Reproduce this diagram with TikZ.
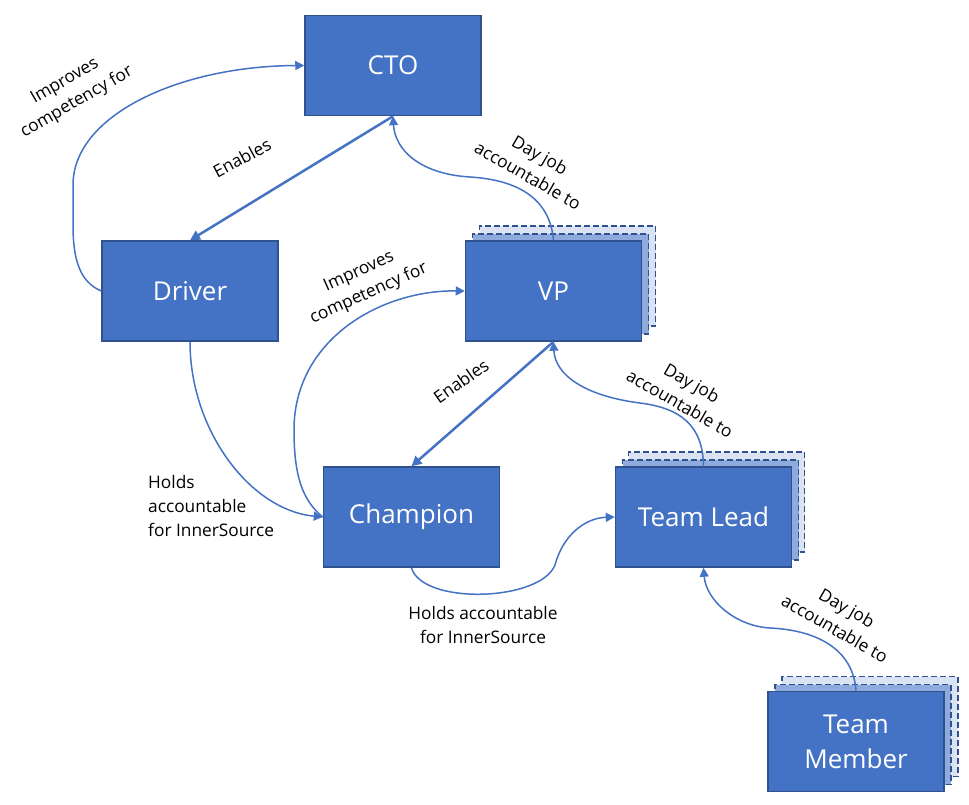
\documentclass[tikz,border=0pt]{standalone}
\usepackage{fontspec}
\setmainfont{Open Sans}
\usetikzlibrary{arrows.meta}
\definecolor{boxfill}{HTML}{4472C4}
\definecolor{boxline}{HTML}{2F528F}
\definecolor{midfill}{HTML}{8FAADC}
\definecolor{backfill}{HTML}{DAE3F3}
\begin{document}
\begin{tikzpicture}[x=1pt,y=-1pt,
  box/.style={draw=boxline, line width=1.5pt, fill=boxfill, text=white,
    minimum width=176pt, minimum height=100pt, inner sep=0pt,
    font=\fontsize{26}{35}\selectfont, align=center},
  layermid/.style={box, fill=midfill, dash pattern=on 6pt off 3pt},
  layerback/.style={box, fill=backfill, dash pattern=on 6pt off 3pt},
  conn/.style={draw=boxfill, line width=1.5pt, -{Triangle[length=9pt,width=9pt]}},
  thickconn/.style={conn, line width=2.5pt, -{Triangle[length=10pt,width=10pt]}},
  lbl/.style={font=\fontsize{17.3}{24}\selectfont, align=center, text=black, inner sep=0pt}
]
\useasboundingbox (0,0) rectangle (969,804);

% nodes
\node[box] (cto) at (393,65.5) {CTO};
\node[box] (driver) at (190,291) {Driver};
\node[layerback] (vpb) at (567.5,276) {};
\node[layermid] (vpm) at (560.5,284) {};
\node[box] (vp) at (553.5,291) {VP};
\node[box] (champ) at (411.5,517) {Champion};
\node[layerback] (tlb) at (716.5,502) {};
\node[layermid] (tlm) at (710.5,510) {};
\node[box] (tl) at (703.5,517) {Team Lead};
\node[layerback] (tmb) at (870,726.5) {};
\node[layermid] (tmm) at (863,734.5) {};
\node[box] (tm) at (856,741.5) {Team\\Member};

% connectors
\draw[conn] (driver.west) .. controls (80,282) and (73,260) .. (73,225)
   -- (73,185) .. controls (73,115) and (180,66) .. (cto.west);
\draw[thickconn] (cto.south) -- (driver.north);
\draw[conn] (vp.north) .. controls (550,200) and (520,180) .. (470,177)
   .. controls (420,174) and (395,150) .. (cto.south);
\draw[conn] (driver.south) .. controls (190,430) and (250,510) .. (champ.west);
\draw[conn] (champ.west) .. controls (302,500) and (294,475) .. (294,430)
   .. controls (294,340) and (380,290) .. (vp.west);
\draw[thickconn] (vp.south) -- (champ.north);
\draw[conn] (tl.north) .. controls (703,425) and (680,408) .. (640,403)
   .. controls (585,396) and (555,375) .. (vp.south);
\draw[conn] (champ.south) .. controls (422,605) and (540,602) .. (555,565)
   .. controls (563,535) and (585,518) .. (tl.west);
\draw[conn] (tm.north) .. controls (853,648) and (815,630) .. (770,628)
   .. controls (735,626) and (706,600) .. (tl.south);

% labels
\node[lbl, rotate=30] (l1) at (71,92) {Improves\\competency for};
\node[lbl, rotate=28] (l2) at (242,158) {Enables};
\node[lbl, rotate=-30] (l3) at (534,165) {Day job\\accountable to};
\node[lbl, anchor=west, align=left] (l4) at (148,506) {Holds\\accountable\\for InnerSource};
\node[lbl, rotate=24] (l5) at (364,283) {Improves\\competency for};
\node[lbl, rotate=35] (l6) at (461,381) {Enables};
\node[lbl, rotate=-30] (l7) at (686,393) {Day job\\accountable to};
\node[lbl] (l8) at (483,625) {Holds accountable\\for InnerSource};
\node[lbl, rotate=-30] (l9) at (841,618) {Day job\\accountable to};
\end{tikzpicture}
\end{document}
